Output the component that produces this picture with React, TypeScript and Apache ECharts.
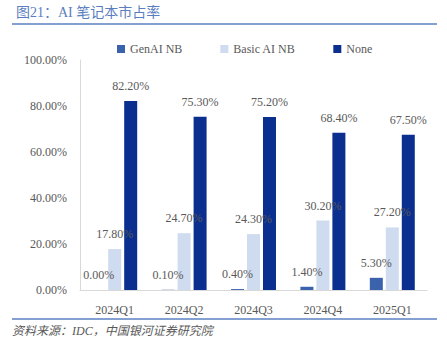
import React, { useEffect, useRef } from "react";
import * as echarts from "echarts";

const categories = ["2024Q1", "2024Q2", "2024Q3", "2024Q4", "2025Q1"];
const genAI = [0.0, 0.1, 0.4, 1.4, 5.3];
const basicAI = [17.8, 24.7, 24.3, 30.2, 27.2];
const none = [82.2, 75.3, 75.2, 68.4, 67.5];
const seriesNames = ["GenAI NB", "Basic AI NB", "None"];
const colors = ["#3a62ad", "#cfdbef", "#0b2f8e"];
const titleText = "图21：AI 笔记本市占率";
const sourceText = "资料来源：IDC，中国银河证券研究院";

const SERIF = "'Liberation Serif', 'Times New Roman', 'DejaVu Serif', 'Noto Sans CJK SC', serif";
const GREY = "#595959";

export default function App() {
  const ref = useRef<HTMLDivElement>(null);
  useEffect(() => {
    if (!ref.current) return;
    const chart = echarts.init(ref.current, null, { renderer: "svg" });
    const values = [genAI, basicAI, none];
    chart.setOption({
      animation: false,
      backgroundColor: "#ffffff",
      textStyle: { fontFamily: SERIF },
      grid: { left: 80, right: 20, top: 60, bottom: 48, containLabel: false },
      legend: {
        data: seriesNames,
        left: 112,
        top: 38,
        itemWidth: 8,
        itemHeight: 8,
        itemGap: 38,
        icon: "rect",
        textStyle: { color: GREY, fontSize: 12, fontFamily: SERIF },
      },
      xAxis: {
        type: "category",
        data: categories,
        axisLine: { show: true, lineStyle: { color: "#d9d9d9", width: 1 } },
        axisTick: { show: false },
        axisLabel: { color: GREY, fontSize: 12, fontFamily: SERIF, margin: 14 },
      },
      yAxis: {
        type: "value",
        min: 0,
        max: 100,
        interval: 20,
        axisLine: { show: true, lineStyle: { color: "#d9d9d9", width: 1 } },
        axisTick: { show: false },
        splitLine: { show: false },
        axisLabel: {
          color: GREY,
          fontSize: 12,
          fontFamily: SERIF,
          margin: 13,
          formatter: (v: number) => v.toFixed(2) + "%",
        },
      },
      series: seriesNames.map((name, i) => ({
        name,
        type: "bar",
        data: values[i],
        barWidth: 13,
        barGap: "23%",
        itemStyle: { color: colors[i] },
        label: {
          show: true,
          position: "top",
          distance: 9,
          color: GREY,
          fontSize: 12,
          fontFamily: SERIF,
          formatter: (p: any) => Number(p.value).toFixed(2) + "%",
        },
      })),
      graphic: [
        {
          type: "text",
          left: 16,
          top: 5,
          style: {
            text: titleText,
            fill: "#5a7ec0",
            fontSize: 14,
            fontFamily: SERIF,
          },
        },
        {
          type: "line",
          shape: { x1: 12, y1: 24, x2: 437, y2: 24 },
          style: { stroke: "#5b80c2", lineWidth: 1.5 },
        },
        {
          type: "line",
          shape: { x1: 12, y1: 319, x2: 437, y2: 319 },
          style: { stroke: "#5b80c2", lineWidth: 1.5 },
        },
        {
          type: "text",
          left: 12,
          top: 325,
          style: {
            text: sourceText,
            fill: GREY,
            fontSize: 12,
            fontStyle: "italic",
            fontFamily: SERIF,
          },
        },
      ],
    });
    return () => chart.dispose();
  }, []);
  return <div ref={ref} style={{ width: 447, height: 338, position: "absolute", left: 0, top: 0 }} />;
}
